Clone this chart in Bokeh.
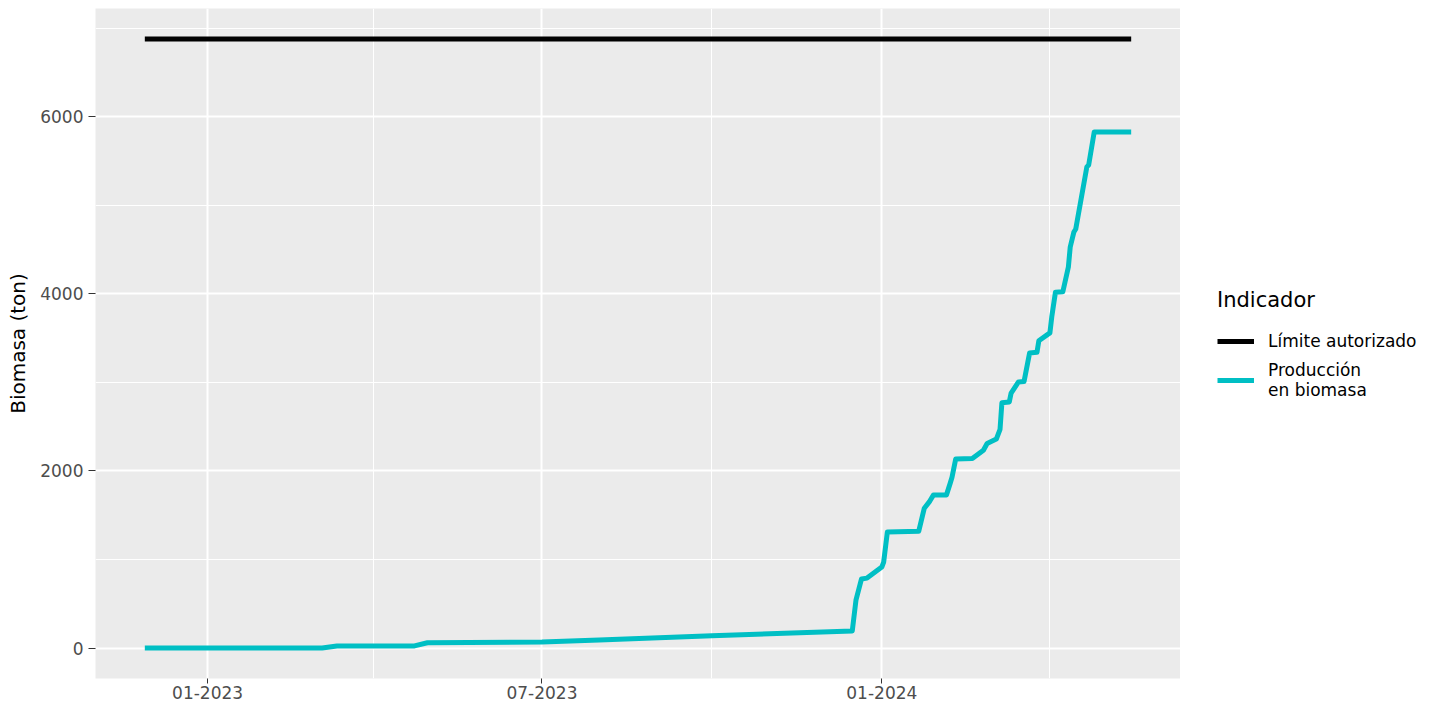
import pandas as pd
from bokeh.plotting import figure
from bokeh.layouts import row
from bokeh.models import (FixedTicker, DatetimeTickFormatter, Legend, LegendItem,
                          Range1d, ColumnDataSource)
from bokeh.embed import file_html
from bokeh.resources import INLINE

# ---- data ----
prod_dates = ["2022-11-28", "2023-03-04", "2023-03-12", "2023-04-23", "2023-04-30",
              "2023-07-01", "2023-08-01", "2023-10-01", "2023-12-16", "2023-12-18",
              "2023-12-21", "2023-12-24", "2024-01-01", "2024-01-02", "2024-01-04",
              "2024-01-21", "2024-01-24", "2024-01-27", "2024-01-29", "2024-02-05",
              "2024-02-07", "2024-02-08", "2024-02-10", "2024-02-19", "2024-02-25",
              "2024-02-27", "2024-03-03", "2024-03-05", "2024-03-06", "2024-03-10",
              "2024-03-11", "2024-03-15", "2024-03-18", "2024-03-21", "2024-03-25",
              "2024-03-26", "2024-04-01", "2024-04-02", "2024-04-04", "2024-04-08",
              "2024-04-11", "2024-04-12", "2024-04-14", "2024-04-15", "2024-04-21",
              "2024-04-22", "2024-04-25", "2024-05-15"]
prod_values = [0, 0, 22, 24, 60,
               68, 92, 139, 192, 540,
               780, 790, 915, 970, 1310,
               1320, 1580, 1660, 1730, 1730,
               1860, 1930, 2135, 2140, 2235,
               2310, 2360, 2470, 2770, 2780,
               2880, 3006, 3010, 3333, 3340,
               3470, 3560, 3740, 4020, 4025,
               4305, 4530, 4700, 4734, 5435,
               5457, 5830, 5830]

limit_dates = ["2022-11-28", "2024-05-15"]
limit_values = [6880, 6880]

series_labels = ["Límite autorizado", "Producción\nen biomasa"]
series_colors = ["black", "#00BFC4"]
legend_title = "Indicador"
y_label = "Biomasa (ton)"

x_major = ["2023-01-01", "2023-07-01", "2024-01-01"]
x_minor = ["2023-04-01", "2023-10-01", "2024-04-01"]
y_major = [0, 2000, 4000, 6000]
y_minor = [1000, 3000, 5000, 7000]

FONT = "DejaVu Sans"
LW = 5


def to_ms(d):
    return pd.Timestamp(d).value // 10**6


src_prod = ColumnDataSource(dict(date=pd.to_datetime(prod_dates), value=prod_values))
src_lim = ColumnDataSource(dict(date=pd.to_datetime(limit_dates), value=limit_values))

# ggplot-like 5% expansion
xmin = min(to_ms(d) for d in prod_dates + limit_dates)
xmax = max(to_ms(d) for d in prod_dates + limit_dates)
xpad = 0.05 * (xmax - xmin)
ymin = min(prod_values + limit_values)
ymax = max(prod_values + limit_values)
ypad = 0.05 * (ymax - ymin)

p = figure(width=1180, height=706, x_axis_type="datetime",
           output_backend="svg", toolbar_location=None,
           x_range=Range1d(xmin - xpad, xmax + xpad),
           y_range=Range1d(ymin - ypad, ymax + ypad),
           min_border_left=95, min_border_right=0,
           min_border_top=8, min_border_bottom=28)

p.background_fill_color = "#EBEBEB"
p.border_fill_color = "white"
p.outline_line_color = None

p.xaxis.ticker = FixedTicker(ticks=[to_ms(d) for d in x_major],
                             minor_ticks=[to_ms(d) for d in x_minor])
p.yaxis.ticker = FixedTicker(ticks=y_major, minor_ticks=y_minor)
fmt = "%m-%Y"
p.xaxis.formatter = DatetimeTickFormatter(
    microseconds=fmt, milliseconds=fmt, seconds=fmt, minsec=fmt, minutes=fmt,
    hourmin=fmt, hours=fmt, days=fmt, months=fmt, years=fmt)

for g in (p.xgrid, p.ygrid):
    g.grid_line_color = "white"
    g.grid_line_width = 2
    g.minor_grid_line_color = "white"
    g.minor_grid_line_width = 1

for ax in p.axis:
    ax.axis_line_color = None
    ax.major_tick_line_color = "#333333"
    ax.major_tick_line_width = 1
    ax.major_tick_in = 0
    ax.minor_tick_out = 0
    ax.minor_tick_in = 0
    ax.major_label_text_color = "#4D4D4D"
    ax.major_label_text_font = FONT
    ax.major_label_text_font_size = "17px"

p.xaxis.major_tick_out = 5
p.xaxis.major_label_standoff = 2
p.yaxis.major_tick_out = 7
p.yaxis.major_label_standoff = 5

p.yaxis.axis_label = y_label
p.yaxis.axis_label_text_font = FONT
p.yaxis.axis_label_text_font_size = "20px"
p.yaxis.axis_label_text_font_style = "normal"
p.yaxis.axis_label_text_color = "black"
p.yaxis.axis_label_standoff = 7

p.line(x="date", y="value", source=src_lim, line_color=series_colors[0],
       line_width=LW)
p.line(x="date", y="value", source=src_prod, line_color=series_colors[1],
       line_width=LW, line_join="round")

# ---- legend panel (separate figure at the right, like ggplot's guide area) ----
lp = figure(width=252, height=706, output_backend="svg", toolbar_location=None,
            x_range=Range1d(0, 1), y_range=Range1d(0, 1),
            x_axis_location=None, y_axis_location=None,
            min_border=0)
lp.grid.visible = False
lp.outline_line_color = None
lp.background_fill_color = "white"
lp.border_fill_color = "white"

# key-only renderers (no visible data; they only provide the legend samples)
nan = float("nan")
key_lim = lp.line(x=[nan], y=[nan], line_color=series_colors[0], line_width=LW)
key_prod = lp.line(x=[nan], y=[nan], line_color=series_colors[1], line_width=LW)

legend = Legend(
    items=[LegendItem(label=series_labels[0], renderers=[key_lim]),
           LegendItem(label=series_labels[1], renderers=[key_prod])],
    location=(37, 278),
    title=legend_title,
    title_text_font=FONT, title_text_font_size="21px",
    title_text_font_style="normal", title_text_color="black",
    title_standoff=12,
    label_text_font=FONT, label_text_font_size="17px", label_text_color="black",
    border_line_color=None, background_fill_alpha=0,
    padding=0, margin=0, spacing=2,
    glyph_width=37, glyph_height=34, label_height=34, label_standoff=14,
)
lp.add_layout(legend)

layout = row(p, lp, spacing=0)
open("out.html", "w").write(file_html(layout, INLINE))
